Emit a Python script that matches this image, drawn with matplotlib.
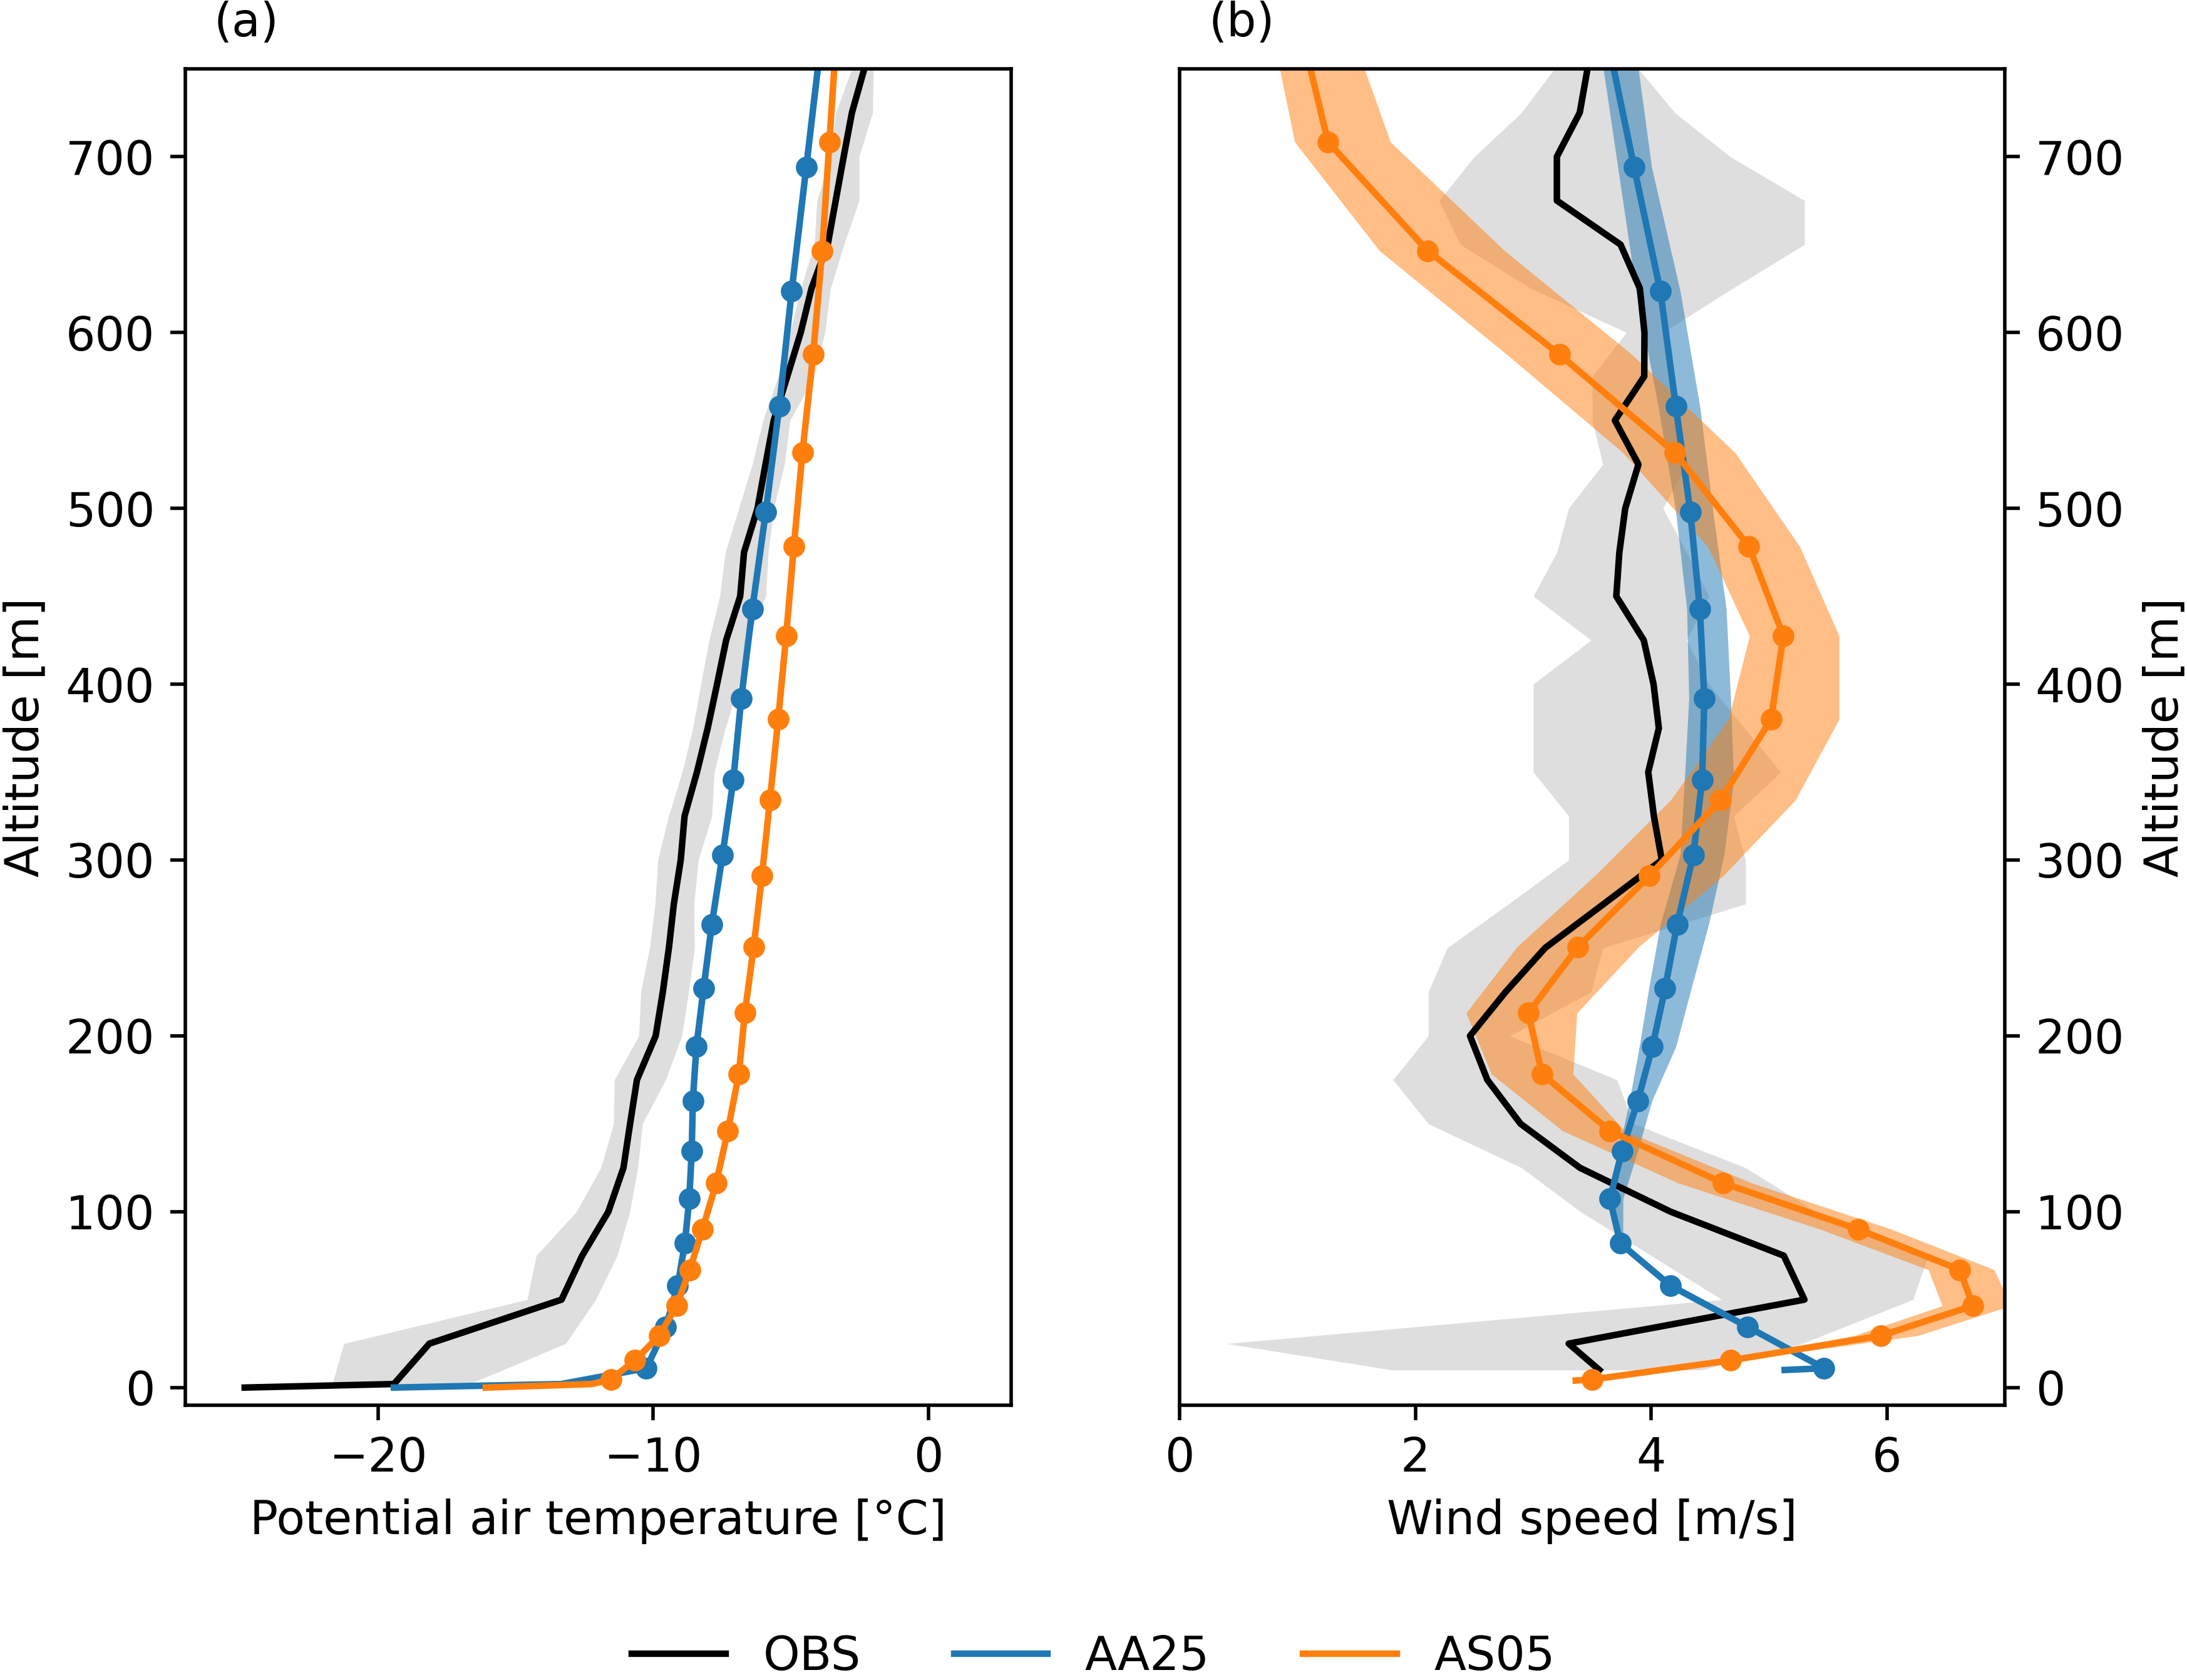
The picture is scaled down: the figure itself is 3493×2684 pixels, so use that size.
import matplotlib
matplotlib.use('Agg')
import matplotlib.pyplot as plt
from matplotlib.lines import Line2D

plt.rcParams['font.size'] = 10.75

# ---- observations (every 25 m) ----
obs_z_t = [0, 2, 25, 50, 75, 100, 125, 150, 175, 200, 225, 250, 275, 300, 325, 350,
           375, 400, 425, 450, 475, 500, 525, 550, 575, 600, 625, 650, 675, 700, 725, 750]
obs_t = [-24.84, -19.42, -18.13, -13.33, -12.58, -11.63, -11.08, -10.84, -10.59, -9.91,
         -9.65, -9.43, -9.25, -9.00, -8.86, -8.41, -8.02, -7.68, -7.35, -6.84, -6.70,
         -6.21, -5.92, -5.62, -5.13, -4.64, -4.25, -3.66, -3.37, -3.08, -2.78, -2.33]
# spread from 2 m upwards
obs_t_lo = [-21.66, -21.24, -14.58, -14.25, -12.79, -11.90, -11.44, -11.41, -10.52, -10.45,
            -10.13, -9.93, -9.83, -9.44, -8.95, -8.56, -8.27, -7.97, -7.58, -7.38, -6.89,
            -6.40, -6.01, -5.46, -5.03, -4.64, -4.15, -4.05, -3.56, -3.37, -2.78]
obs_t_hi = [-16.68, -13.18, -12.09, -11.31, -10.85, -10.56, -10.39, -9.55, -8.96, -8.71,
            -8.50, -8.52, -8.36, -7.87, -7.78, -7.38, -6.89, -6.60, -5.91, -5.82, -5.62,
            -5.23, -5.03, -4.15, -3.76, -3.56, -3.07, -2.52, -2.52, -2.03, -2.00]

obs_z_u = [10, 25, 50, 75, 100, 125, 150, 175, 200, 225, 250, 275, 300, 325, 350, 375,
           400, 425, 450, 475, 500, 525, 550, 575, 600, 625, 650, 675, 700, 725, 750]
obs_u = [3.56, 3.30, 5.30, 5.125, 4.165, 3.395, 2.892, 2.61, 2.463, 2.765, 3.10, 3.597,
         4.09, 4.023, 3.975, 4.065, 4.02, 3.937, 3.704, 3.73, 3.78, 3.892, 3.692, 3.941,
         3.943, 3.904, 3.74, 3.20, 3.20, 3.394, 3.46]
obs_u_lo = [1.80, 0.40, 4.60, 4.00, 3.40, 2.90, 2.11, 1.81, 2.11, 2.11, 2.27, 2.79, 3.30,
            3.30, 3.00, 3.00, 3.00, 3.49, 3.00, 3.20, 3.30, 3.59, 3.50, 3.50, 3.79, 2.98,
            2.38, 2.20, 2.50, 2.90, 3.18]
obs_u_hi = [4.43, 5.28, 6.22, 6.35, 5.40, 4.80, 3.85, 3.71, 2.80, 3.49, 3.59, 4.80, 4.80,
            4.70, 5.10, 4.79, 4.49, 4.30, 4.49, 4.30, 4.10, 4.30, 4.25, 4.20, 4.10, 4.69,
            5.30, 5.30, 4.67, 4.20, 3.89]

# ---- AA25 ----
aa25_z = [11, 34.5, 58, 82, 107.3, 134.5, 163, 194, 227, 263.5, 303, 345.5, 392, 442.7,
          498, 558, 623.5, 694, 770]
aa25_t = [-10.25, -9.54, -9.11, -8.85, -8.69, -8.60, -8.56, -8.43, -8.17, -7.87, -7.48,
          -7.09, -6.80, -6.40, -5.91, -5.42, -4.97, -4.44, -3.87]
aa25_sfc_z_t = [0, 2]
aa25_sfc_t = [-19.42, -13.34]
aa25_u = [5.467, 4.819, 4.163, 3.739, 3.650, 3.752, 3.886, 4.011, 4.118, 4.220, 4.358,
          4.432, 4.451, 4.413, 4.332, 4.209, 4.078, 3.855, 3.62]
aa25_u_lo = [5.467, 4.819, 4.16, 3.72, 3.64, 3.725, 3.815, 3.90, 3.98, 4.078, 4.246,
             4.283, 4.32, 4.302, 4.209, 4.06, 3.873, 3.717, 3.55]
aa25_u_hi = [5.467, 4.819, 4.17, 3.76, 3.761, 3.886, 4.006, 4.21, 4.34, 4.488, 4.618,
             4.70, 4.674, 4.637, 4.525, 4.413, 4.246, 4.004, 3.85]
aa25_sfc_z_u = [10]
aa25_sfc_u = [5.132]

# ---- AS05 ----
as05_z = [4.6, 15.5, 29.5, 46.5, 67, 90, 116.3, 146, 178.3, 213, 250.5, 291, 334, 380,
          427.5, 478.3, 531.7, 587.5, 646.5, 708.3, 772]
as05_t = [-11.54, -10.66, -9.78, -9.15, -8.67, -8.21, -7.71, -7.29, -6.89, -6.67, -6.35,
          -6.05, -5.76, -5.46, -5.17, -4.89, -4.58, -4.19, -3.86, -3.60, -3.33]
as05_sfc_z_t = [0, 2]
as05_sfc_t = [-16.08, -12.23]
as05_u = [3.50, 4.676, 5.948, 6.730, 6.618, 5.757, 4.609, 3.650, 3.074, 2.958, 3.378,
          3.985, 4.588, 5.017, 5.121, 4.830, 4.201, 3.222, 2.104, 1.259, 1.03]
as05_u_lo = [3.48, 4.64, 5.72, 6.47, 6.35, 5.435, 4.23, 3.248, 2.645, 2.43, 2.86, 3.52,
             4.164, 4.655, 4.834, 4.48, 3.76, 2.775, 1.695, 0.976, 0.78]
as05_u_hi = [3.52, 4.74, 6.26, 7.05, 6.91, 6.04, 4.855, 3.775, 3.337, 3.37, 3.892, 4.61,
             5.222, 5.594, 5.594, 5.26, 4.711, 3.836, 2.756, 1.788, 1.45]
as05_sfc_z_u = [4.0]
as05_sfc_u = [3.36]

c_obs, c_aa, c_as = 'k', 'C0', 'C1'
lw, ms = 1.5, 4

fig = plt.figure(figsize=(3493 / 500, 2684 / 500), dpi=500)
ax1 = fig.add_axes([0.0847, 0.1636, 0.3776, 0.7955])
ax2 = fig.add_axes([0.5394, 0.1636, 0.3773, 0.7955])

# (a) potential temperature
ax1.fill_betweenx(obs_z_t[1:], obs_t_lo, obs_t_hi, color='0.5', alpha=0.26, lw=0)
ax1.plot(obs_t, obs_z_t, color=c_obs, lw=lw)
ax1.plot(aa25_sfc_t + aa25_t, aa25_sfc_z_t + aa25_z, color=c_aa, lw=lw,
         marker='o', ms=ms, markevery=slice(len(aa25_sfc_t), None))
ax1.plot(as05_sfc_t + as05_t, as05_sfc_z_t + as05_z, color=c_as, lw=lw,
         marker='o', ms=ms, markevery=slice(len(as05_sfc_t), None))
ax1.set_xlim(-27, 3)
ax1.set_ylim(-10, 750)
ax1.set_xticks([-20, -10, 0])
ax1.set_yticks([0, 100, 200, 300, 400, 500, 600, 700])
ax1.set_xlabel('Potential air temperature [°C]')
ax1.set_ylabel('Altitude [m]')
ax1.set_title('(a)', loc='left', x=0.035, pad=7.5, fontsize=10.75)

# (b) wind speed
ax2.fill_betweenx(obs_z_u, obs_u_lo, obs_u_hi, color='0.5', alpha=0.26, lw=0)
ax2.fill_betweenx(aa25_z, aa25_u_lo, aa25_u_hi, color=c_aa, alpha=0.5, lw=0)
ax2.fill_betweenx(as05_z, as05_u_lo, as05_u_hi, color=c_as, alpha=0.5, lw=0)
ax2.plot(obs_u, obs_z_u, color=c_obs, lw=lw)
ax2.plot(aa25_sfc_u + aa25_u, aa25_sfc_z_u + aa25_z, color=c_aa, lw=lw,
         marker='o', ms=ms, markevery=slice(len(aa25_sfc_u), None))
ax2.plot(as05_sfc_u + as05_u, as05_sfc_z_u + as05_z, color=c_as, lw=lw,
         marker='o', ms=ms, markevery=slice(len(as05_sfc_u), None))
ax2.set_xlim(0, 7)
ax2.set_ylim(-10, 750)
ax2.set_xticks([0, 2, 4, 6])
ax2.set_yticks([0, 100, 200, 300, 400, 500, 600, 700])
ax2.yaxis.tick_right()
ax2.yaxis.set_label_position('right')
ax2.set_xlabel('Wind speed [m/s]')
ax2.set_ylabel('Altitude [m]')
ax2.set_title('(b)', loc='left', x=0.035, pad=7.5, fontsize=10.75)

handles = [Line2D([], [], color=c_obs, lw=lw),
           Line2D([], [], color=c_aa, lw=lw),
           Line2D([], [], color=c_as, lw=lw)]
fig.legend(handles, ['OBS', 'AA25', 'AS05'], loc='center', bbox_to_anchor=(0.5, 0.0135),
           ncol=3, frameon=False)

fig.savefig('out.png', dpi=500)
